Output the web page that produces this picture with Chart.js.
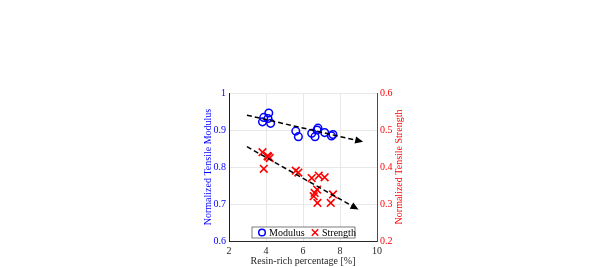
<!DOCTYPE html>
<html lang="en">
<head>
    <meta charset="UTF-8">
    <title>Tensile properties vs resin-rich percentage</title>
    <script src="https://cdn.jsdelivr.net/npm/chart.js"></script>
    <style>
        html, body { margin: 0; padding: 0; background: #ffffff; }
        #wrap { width: 598px; height: 267px; }
    </style>
</head>
<body>
    <div id="wrap"><canvas id="chart"></canvas></div>

    <script>
        // data
        const modulusX = [3.81, 3.88, 4.15, 4.11, 4.25, 5.61, 5.75, 6.47, 6.65, 6.76, 6.81, 7.17, 7.54, 7.62];
        const modulusY = [0.922, 0.934, 0.946, 0.931, 0.918, 0.897, 0.882, 0.891, 0.882, 0.900, 0.905, 0.893, 0.884, 0.888];

        const strengthX = [3.81, 4.08, 4.20, 4.12, 3.88, 5.61, 5.75, 6.47, 6.85, 7.17, 6.76, 6.63, 6.58, 6.78, 7.50, 7.62];
        const strengthY = [0.440, 0.430, 0.424, 0.428, 0.395, 0.390, 0.385, 0.370, 0.377, 0.372, 0.339, 0.330, 0.321, 0.303, 0.303, 0.326];

        // dashed trend arrows (start, end)
        const modulusTrendX = [2.97, 9.25];
        const modulusTrendY = [0.940, 0.868];
        const strengthTrendX = [2.97, 9.0];
        const strengthTrendY = [0.455, 0.285];

        const xTicks = [2, 4, 6, 8, 10];
        const leftTicks = [0.6, 0.7, 0.8, 0.9, 1];
        const rightTicks = [0.2, 0.3, 0.4, 0.5, 0.6];

        const FONT = "'Liberation Serif', 'Times New Roman', serif";
        const BLUE = '#0000ff';
        const RED = '#ff0000';
        const RIGHT_TITLE = 'Normalized Tensile Strength';

        const toPoints = (xs, ys) => xs.map((x, i) => ({ x: x, y: ys[i] }));

        // arrow heads at the end of the trend lines
        const arrowHeads = {
            id: 'arrowHeads',
            afterDatasetsDraw(chart) {
                const ctx = chart.ctx;
                chart.data.datasets.forEach((ds, i) => {
                    if (!ds.isTrend) return;
                    const meta = chart.getDatasetMeta(i);
                    const p0 = meta.data[0], p1 = meta.data[1];
                    const ang = Math.atan2(p1.y - p0.y, p1.x - p0.x);
                    const len = 8, half = 3.6;
                    ctx.save();
                    ctx.translate(p1.x, p1.y);
                    ctx.rotate(ang);
                    ctx.fillStyle = '#000000';
                    ctx.beginPath();
                    ctx.moveTo(0, 0);
                    ctx.lineTo(-len, -half);
                    ctx.lineTo(-len, half);
                    ctx.closePath();
                    ctx.fill();
                    ctx.restore();
                });
            }
        };

        // right axis title, read bottom-to-top like the left one
        const rightTitle = {
            id: 'rightTitle',
            afterDraw(chart) {
                const ctx = chart.ctx;
                const s = chart.scales.y1;
                ctx.save();
                ctx.translate(s.right - 10, (chart.chartArea.top + chart.chartArea.bottom) / 2);
                ctx.rotate(-Math.PI / 2);
                ctx.fillStyle = RED;
                ctx.font = '10px ' + FONT;
                ctx.textAlign = 'center';
                ctx.textBaseline = 'middle';
                ctx.fillText(RIGHT_TITLE, 0, 0);
                ctx.restore();
            }
        };

        // legend box inside the plot, bottom centre
        const boxLegend = {
            id: 'boxLegend',
            afterDraw(chart) {
                const ctx = chart.ctx;
                const a = chart.chartArea;
                const bx = a.left + 23, by = a.bottom - 14, bw = 103, bh = 11;
                ctx.save();
                ctx.fillStyle = '#ffffff';
                ctx.fillRect(bx, by, bw, bh);
                ctx.strokeStyle = '#262626';
                ctx.lineWidth = 0.6;
                ctx.strokeRect(bx, by, bw, bh);

                const cy = by + bh / 2;
                ctx.lineWidth = 1.5;
                ctx.strokeStyle = BLUE;
                ctx.beginPath();
                ctx.arc(bx + 10, cy, 3.3, 0, Math.PI * 2);
                ctx.stroke();

                ctx.strokeStyle = RED;
                const rx = bx + 63, r = 3.2;
                ctx.beginPath();
                ctx.moveTo(rx - r, cy - r); ctx.lineTo(rx + r, cy + r);
                ctx.moveTo(rx - r, cy + r); ctx.lineTo(rx + r, cy - r);
                ctx.stroke();

                ctx.fillStyle = '#000000';
                ctx.font = '10px ' + FONT;
                ctx.textBaseline = 'middle';
                ctx.textAlign = 'left';
                ctx.fillText('Modulus', bx + 17, cy + 0.5);
                ctx.fillText('Strength', bx + 70, cy + 0.5);
                ctx.restore();
            }
        };

        new Chart(document.getElementById('chart'), {
            type: 'scatter',
            data: {
                datasets: [
                    {
                        label: 'Modulus trend',
                        isTrend: true,
                        type: 'line',
                        data: toPoints(modulusTrendX, modulusTrendY),
                        yAxisID: 'y',
                        borderColor: '#000000',
                        borderWidth: 1.5,
                        borderDash: [5, 3],
                        pointRadius: 0,
                        fill: false
                    },
                    {
                        label: 'Strength trend',
                        isTrend: true,
                        type: 'line',
                        data: toPoints(strengthTrendX, strengthTrendY),
                        yAxisID: 'y1',
                        borderColor: '#000000',
                        borderWidth: 1.5,
                        borderDash: [5, 3],
                        pointRadius: 0,
                        fill: false
                    },
                    {
                        label: 'Modulus',
                        data: toPoints(modulusX, modulusY),
                        yAxisID: 'y',
                        pointStyle: 'circle',
                        pointRadius: 3.8,
                        borderColor: BLUE,
                        borderWidth: 1.5,
                        backgroundColor: 'rgba(0,0,0,0)'
                    },
                    {
                        label: 'Strength',
                        data: toPoints(strengthX, strengthY),
                        yAxisID: 'y1',
                        pointStyle: 'crossRot',
                        pointRadius: 5.4,
                        borderColor: RED,
                        borderWidth: 1.6,
                        backgroundColor: RED
                    }
                ]
            },
            options: {
                responsive: true,
                maintainAspectRatio: false,
                animation: false,
                layout: { padding: { left: 190, right: 189, top: 93, bottom: 0 } },
                plugins: {
                    legend: { display: false },
                    tooltip: { enabled: false }
                },
                scales: {
                    x: {
                        type: 'linear',
                        min: 2, max: 10,
                        afterBuildTicks: s => { s.ticks = xTicks.map(v => ({ value: v })); },
                        afterFit: s => { s.height = 26; },
                        ticks: { color: '#262626', padding: 4, font: { family: FONT, size: 10 } },
                        grid: { color: '#e8e8e8', drawTicks: false, lineWidth: 1 },
                        border: { color: '#262626', width: 1 },
                        title: {
                            display: true,
                            text: 'Resin-rich percentage [%]',
                            color: '#262626',
                            font: { family: FONT, size: 10 },
                            padding: { top: 0, bottom: 0 }
                        }
                    },
                    y: {
                        position: 'left',
                        min: 0.6, max: 1,
                        afterBuildTicks: s => { s.ticks = leftTicks.map(v => ({ value: v })); },
                        afterFit: s => { s.width = 39; },
                        ticks: {
                            color: BLUE, padding: 3,
                            font: { family: FONT, size: 10 },
                            callback: v => String(+v.toFixed(1))
                        },
                        grid: { color: '#e8e8e8', drawTicks: false, lineWidth: 1 },
                        border: { color: BLUE, width: 1 },
                        title: {
                            display: true,
                            text: 'Normalized Tensile Modulus',
                            color: BLUE,
                            font: { family: FONT, size: 10 },
                            padding: { top: 12, bottom: 0 }
                        }
                    },
                    y1: {
                        position: 'right',
                        min: 0.2, max: 0.6,
                        afterBuildTicks: s => { s.ticks = rightTicks.map(v => ({ value: v })); },
                        afterFit: s => { s.width = 32; },
                        ticks: {
                            color: RED, padding: 3,
                            font: { family: FONT, size: 10 },
                            callback: v => v.toFixed(1)
                        },
                        grid: { display: false, drawTicks: false },
                        border: { color: RED, width: 1 },
                        title: { display: false }
                    }
                }
            },
            plugins: [arrowHeads, rightTitle, boxLegend]
        });
    </script>
</body>
</html>
